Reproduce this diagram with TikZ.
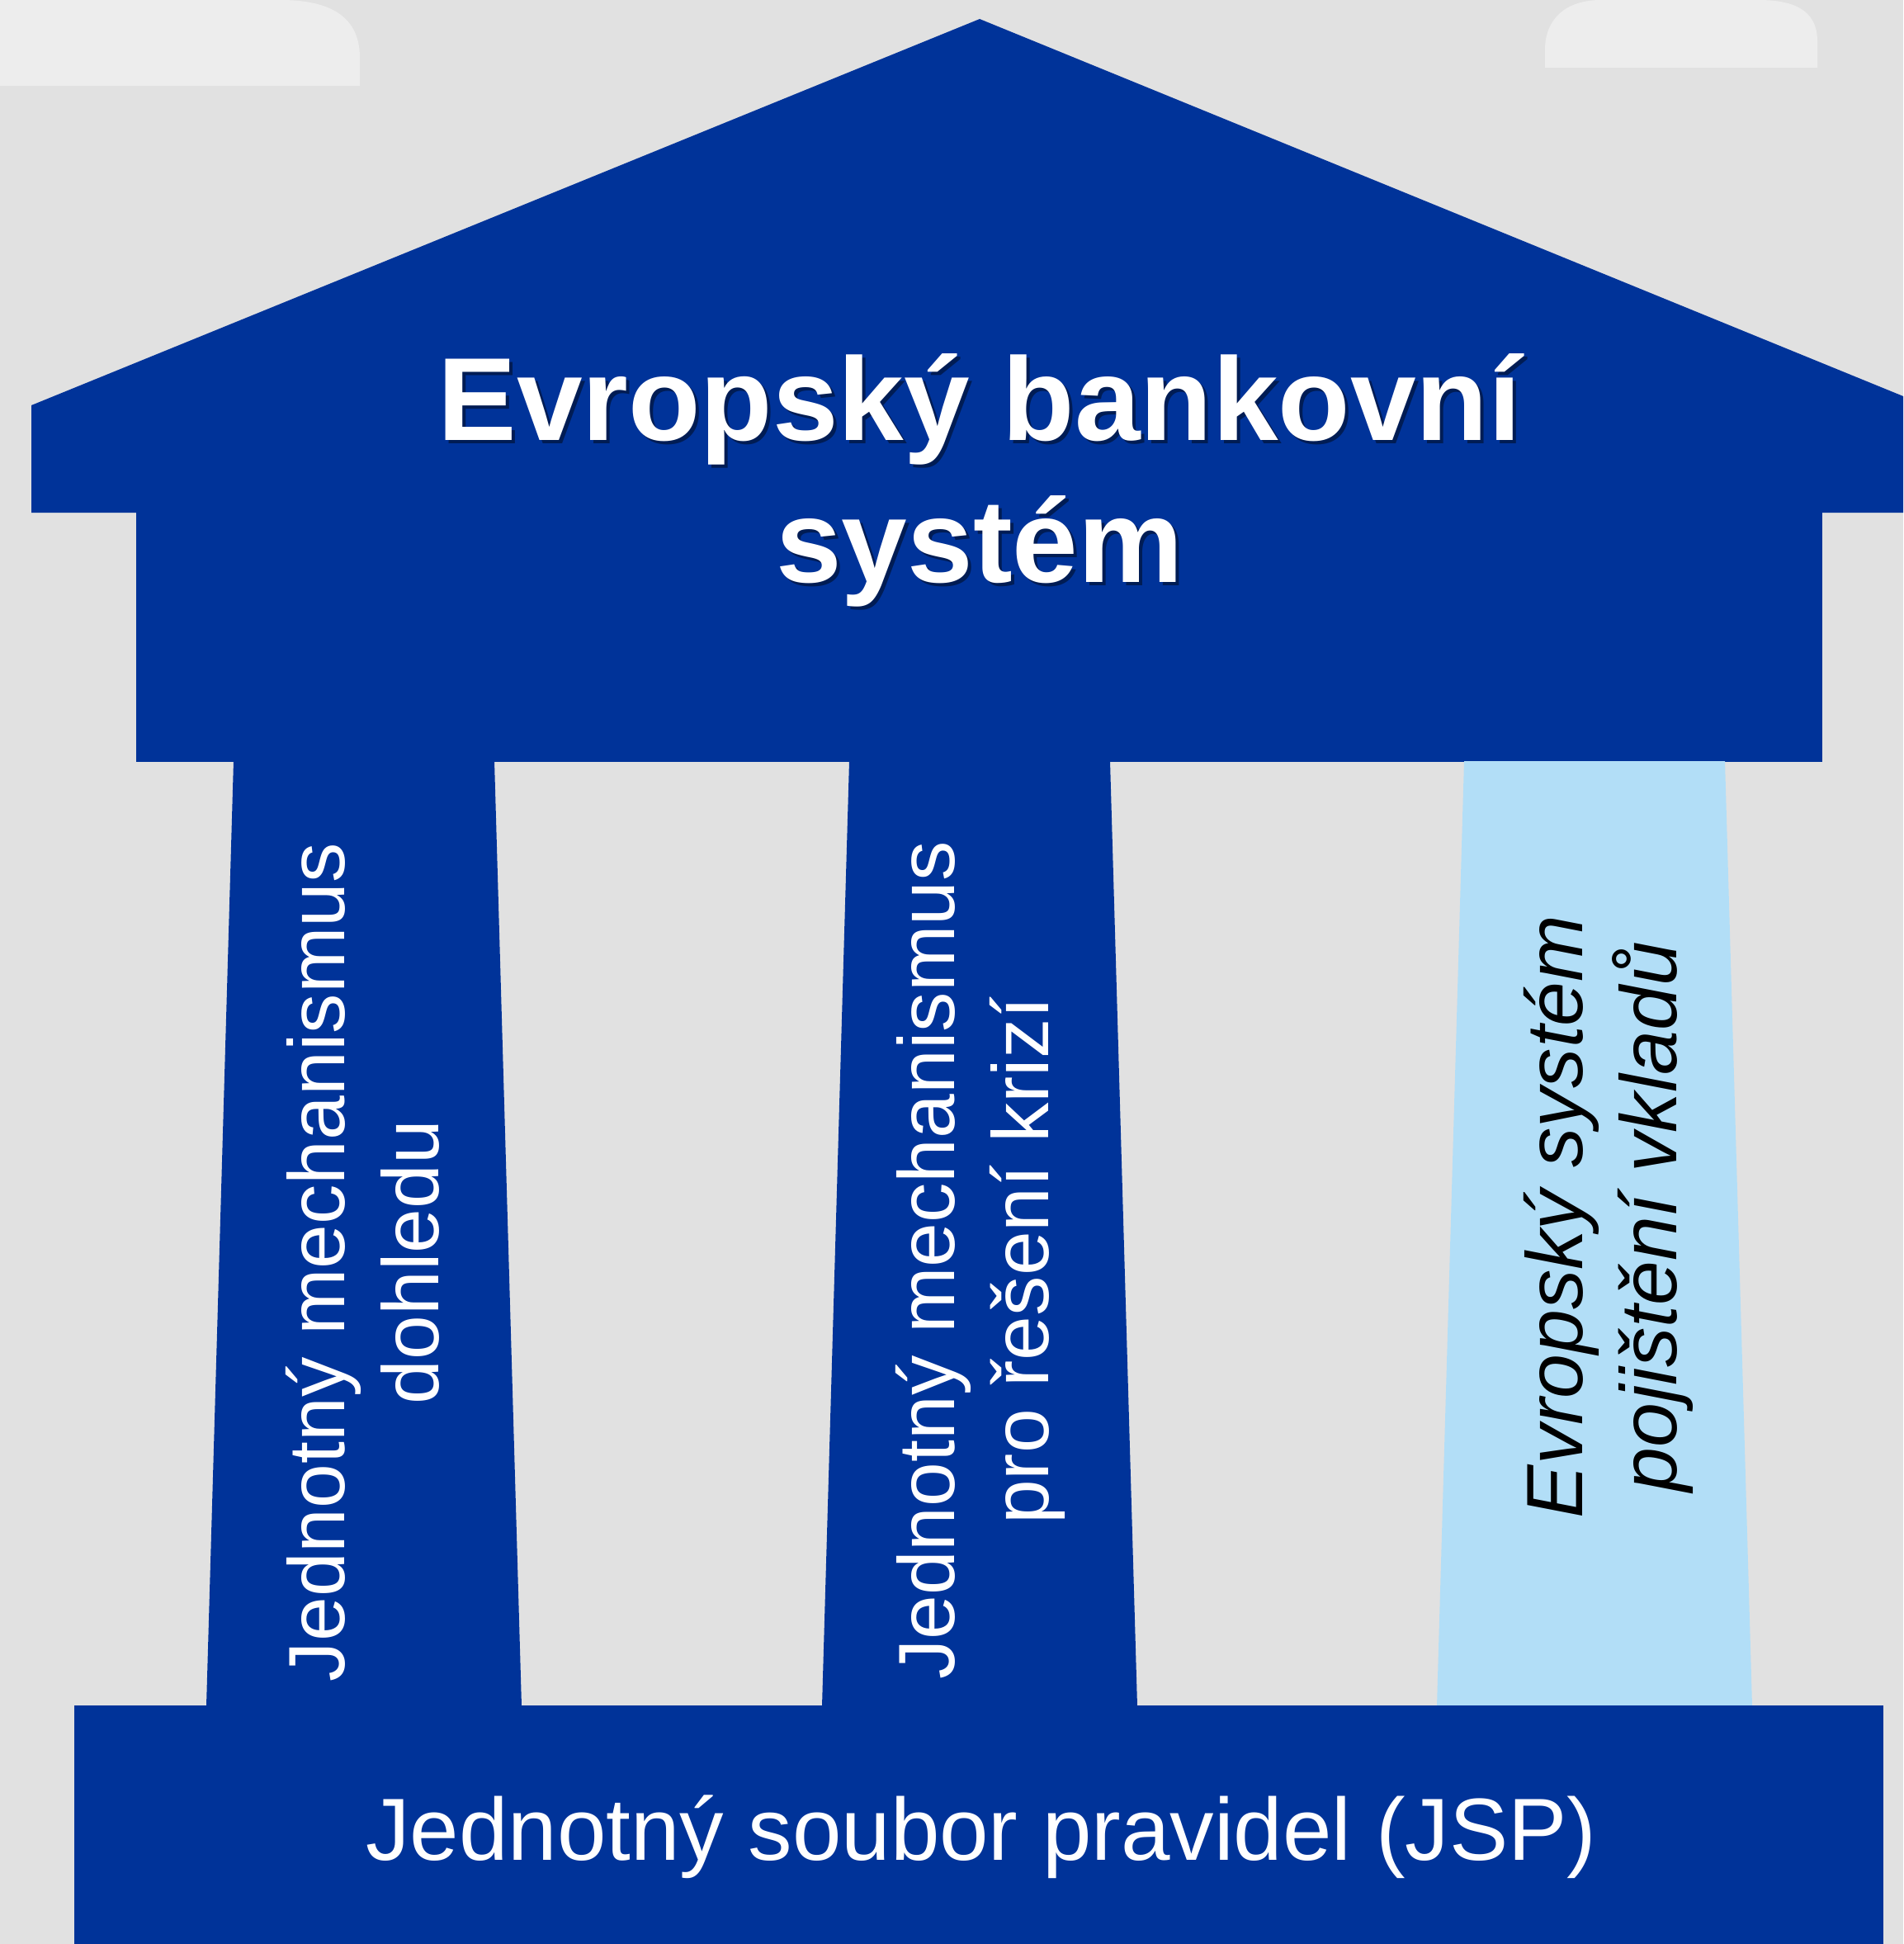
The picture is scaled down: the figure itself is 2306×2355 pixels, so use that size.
\documentclass[tikz,border=0pt]{standalone}
\usepackage{fontspec}
\setmainfont{Liberation Sans}
\definecolor{ebsblue}{RGB}{0,51,153}
\definecolor{ebslight}{RGB}{178,222,247}
\definecolor{ebsgray}{RGB}{225,225,225}
\tikzset{
  titletext/.style={align=center, font=\fontsize{40.7}{48.9}\selectfont\bfseries},
  pillartext/.style={rotate=90, align=center, font=\fontsize{27.5}{32.4}\selectfont},
  basetext/.style={text=white, font=\fontsize{30.4}{36}\selectfont},
}

\begin{document}
\begin{tikzpicture}[x=0.01cm,y=-0.01cm]
    \useasboundingbox (0,0) rectangle (2306,2355);
    \fill[ebsgray] (0,0) rectangle (2306,2355);
    % clouds
    \fill[white,opacity=0.4] (0,0) -- (0,104) -- (436,104) -- (436,70) .. controls (436,20) and (400,0) .. (340,0) -- cycle;
    \fill[white,opacity=0.4] (1872,82) -- (2202,82) -- (2202,50) .. controls (2202,10) and (2170,0) .. (2130,0) -- (1940,0) .. controls (1895,0) and (1872,25) .. (1872,60) -- cycle;
    % roof and beam
    \fill[ebsblue] (38,621) -- (38,491) -- (1187,23) -- (2306,480) -- (2306,621) -- cycle;
    \fill[ebsblue] (165,620) rectangle (2208,923);
    % pillars
    \foreach \x/\c in {441/ebsblue,1187/ebsblue,1932/ebslight}{
      \fill[\c] (\x-158,922) -- (\x+158,922) -- (\x+191,2067) -- (\x-191,2067) -- cycle;};
    % base
    \fill[ebsblue] (90,2066) rectangle (2282,2355);
    \node[titletext,text=black,opacity=0.45] (titleshadow) at (1191,586) {Evropský bankovní\\systém};
    \node[titletext,text=white] (title) at (1187,582) {Evropský bankovní\\systém};
    \node[pillartext,text=white] (supervision) at (439,1529) {Jednotný mechanismus\\dohledu};
    \node[pillartext,text=white] (resolution) at (1188,1527) {Jednotný mechanismus\\pro řešení krizí};
    \node[pillartext,text=black,font=\fontsize{27.5}{32.4}\selectfont\itshape] (deposit) at (1949,1474) {Evropský systém\\pojištění vkladů};
    \node[basetext] (rulebook) at (1189,2225) {Jednotný soubor pravidel (JSP)};
\end{tikzpicture}
\end{document}
